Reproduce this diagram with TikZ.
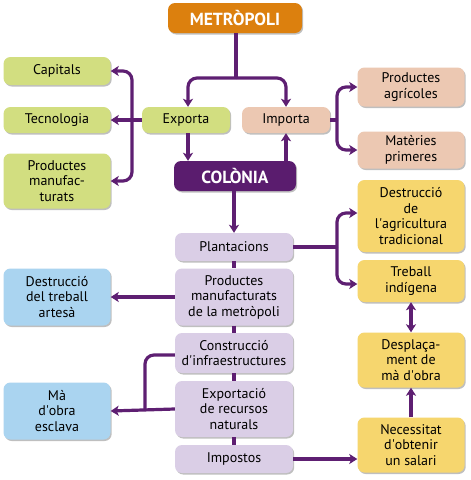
\documentclass[tikz,border=0pt]{standalone}
\usepackage{fontspec}
\setmainfont{PT Sans}
\usetikzlibrary{arrows.meta,shadows}
\definecolor{cgreen}{HTML}{D2DE80}
\definecolor{cpeach}{HTML}{ECC8B2}
\definecolor{clav}{HTML}{DACEE6}
\definecolor{cblue}{HTML}{AAD4F0}
\definecolor{cyellow}{HTML}{F6D66E}
\definecolor{corange}{HTML}{DC800E}
\definecolor{cpurple}{HTML}{5A1C6E}
\definecolor{carrow}{HTML}{5E1F72}
\newcommand{\ap}{\textquotesingle}
\tikzset{
  box/.style={rounded corners=7pt, align=center, inner sep=0pt, font=\fontsize{14}{15.5}\selectfont,
    drop shadow={shadow xshift=1.2pt, shadow yshift=-1.5pt, opacity=0.25, fill=black}},
  head/.style={box, text=white, font=\fontsize{17.5}{20}\selectfont\bfseries},
  wbox/.style={box, minimum width=107pt},
  cbox/.style={box, fill=clav, minimum width=118pt},
  conn/.style={draw=carrow, line width=3.2pt},
  arr/.style={conn, -{Stealth[length=8pt,width=10pt,inset=2pt]}},
  darr/.style={conn, {Stealth[length=8pt,width=10pt,inset=2pt]}-{Stealth[length=8pt,width=10pt,inset=2pt]}},
}
\begin{document}
\begin{tikzpicture}[x=1pt,y=-1pt]
\useasboundingbox[fill=white] (0,0) rectangle (471,480);
% top
\node[head, fill=corange, minimum width=134pt, minimum height=30pt] (metro) at (235,18) {METRÒPOLI};
\node[box, fill=cgreen, minimum width=88pt, minimum height=26pt] (exporta) at (186,120) {Exporta};
\node[box, fill=cpeach, minimum width=88pt, minimum height=26pt] (importa) at (286,120) {Importa};
\node[head, fill=cpurple, minimum width=122pt, minimum height=30pt] (colonia) at (235,176) {COLÒNIA};
% left green
\node[wbox, fill=cgreen, minimum height=28pt] (capitals) at (57,71) {Capitals};
\node[wbox, fill=cgreen, minimum height=26pt] (tecno) at (57,120) {Tecnologia};
\node[wbox, fill=cgreen, minimum height=55pt] (prodman) at (57,181) {Productes\\manufac-\\turats};
% right peach
\node[wbox, fill=cpeach, minimum height=39pt] (agric) at (411,87) {Productes\\agrícoles};
\node[wbox, fill=cpeach, minimum height=37pt] (materies) at (411,150) {Matèries\\primeres};
% centre column
\node[cbox, minimum height=28pt] (plant) at (234,247) {Plantacions};
\node[cbox, minimum height=57pt] (prodmet) at (234,297) {Productes\\manufacturats\\de la metròpoli};
\node[cbox, minimum height=40pt] (constr) at (234,353) {Construcció\\d\ap infraestructures};
\node[cbox, minimum height=56pt] (exportrec) at (234,409) {Exportació\\de recursos\\naturals};
\node[cbox, minimum height=28pt] (impostos) at (234,459) {Impostos};
% left blue
\node[wbox, fill=cblue, minimum height=57pt] (artesa) at (57,297) {Destrucció\\del treball\\artesà};
\node[wbox, fill=cblue, minimum height=57pt] (esclava) at (57,411) {Mà\\d\ap obra\\esclava};
% right yellow
\node[wbox, fill=cyellow, minimum height=72pt] (destagr) at (411,216) {Destrucció\\de\\l\ap agricultura\\tradicional};
\node[wbox, fill=cyellow, minimum height=42pt] (treball) at (411,281) {Treball\\indígena};
\node[wbox, fill=cyellow, minimum height=55pt] (despl) at (411,360) {Desplaça-\\ment de\\mà d\ap obra};
\node[wbox, fill=cyellow, minimum height=55pt] (neces) at (411,445) {Necessitat\\d\ap obtenir\\un salari};
% coordinates
\coordinate (split) at (236,78);
\coordinate (bl) at (132,120);
\coordinate (br) at (337,120);
\coordinate (bp) at (337,247);
\coordinate (jn) at (145,409);
% connectors
\draw[conn] (metro.south -| split) -- (split);
\draw[arr, rounded corners=9pt] (split) -| ([xshift=2pt]exporta.north);
\draw[arr, rounded corners=9pt] (split) -| (importa.north);
\draw[arr] ([xshift=2pt]exporta.south) -- ([xshift=2pt]exporta.south |- colonia.north);
\draw[arr] (importa.south |- colonia.north) -- (importa.south);
\draw[arr] (exporta.west) -- (tecno.east);
\draw[arr, rounded corners=9pt] (bl) |- (capitals.east);
\draw[arr, rounded corners=9pt] (bl) |- (prodman.east);
\draw[conn] (importa.east) -- (br);
\draw[arr, rounded corners=9pt] (br) |- (agric.west);
\draw[arr, rounded corners=9pt] (br) |- (materies.west);
\draw[arr] (colonia.south -| plant.north) -- (plant.north);
\draw[conn] (plant.south) -- (prodmet.north);
\draw[conn] (prodmet.south) -- (constr.north);
\draw[conn] (constr.south) -- (exportrec.north);
\draw[conn] (exportrec.south) -- (impostos.north);
\draw[arr] (prodmet.west) -- (artesa.east);
\draw[arr] (exportrec.west) -- (esclava.east);
\draw[conn, rounded corners=9pt] ([yshift=-2pt]constr.west) -| (jn);
\draw[conn] (plant.east) -- (bp);
\draw[arr, rounded corners=9pt] (bp) |- ([yshift=3pt]destagr.west);
\draw[arr, rounded corners=9pt] (bp) |- ([yshift=-3pt]treball.west);
\draw[arr] (impostos.east) -- (impostos.east -| neces.west);
\draw[darr] (treball.south) -- (despl.north);
\draw[arr] (neces.north) -- (despl.south);
\end{tikzpicture}
\end{document}
